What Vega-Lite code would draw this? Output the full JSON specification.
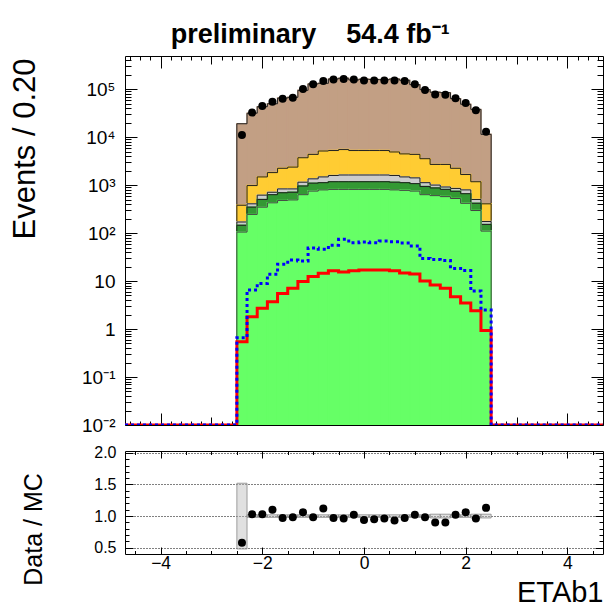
{
  "$schema": "https://vega.github.io/schema/vega-lite/v6.json",
  "padding": {"left": 8, "top": 20, "right": 4, "bottom": 0},
  "config": {
    "font": "Liberation Sans",
    "view": {"stroke": "#000", "strokeWidth": 1},
    "axis": {"domain": false, "grid": false, "labelColor": "#000", "titleColor": "#000", "tickColor": "#000", "titleFontWeight": "normal", "labelOverlap": false, "labelFlush": false, "labelBound": false, "labelFont": "Liberation Sans", "titleFont": "Liberation Sans"}
  },
  "datasets": {
    "h": [
      {"lo": -4.7, "up": -4.5, "bg": 0.01, "dg": 0.01, "gr": 0.01, "ye": 0.01, "br": 0.01, "red": 0.01, "blue": 0.01},
      {"lo": -4.5, "up": -4.3, "bg": 0.01, "dg": 0.01, "gr": 0.01, "ye": 0.01, "br": 0.01, "red": 0.01, "blue": 0.01},
      {"lo": -4.3, "up": -4.1, "bg": 0.01, "dg": 0.01, "gr": 0.01, "ye": 0.01, "br": 0.01, "red": 0.01, "blue": 0.01},
      {"lo": -4.1, "up": -3.9, "bg": 0.01, "dg": 0.01, "gr": 0.01, "ye": 0.01, "br": 0.01, "red": 0.01, "blue": 0.01},
      {"lo": -3.9, "up": -3.7, "bg": 0.01, "dg": 0.01, "gr": 0.01, "ye": 0.01, "br": 0.01, "red": 0.01, "blue": 0.01},
      {"lo": -3.7, "up": -3.5, "bg": 0.01, "dg": 0.01, "gr": 0.01, "ye": 0.01, "br": 0.01, "red": 0.01, "blue": 0.01},
      {"lo": -3.5, "up": -3.3, "bg": 0.01, "dg": 0.01, "gr": 0.01, "ye": 0.01, "br": 0.01, "red": 0.01, "blue": 0.01},
      {"lo": -3.3, "up": -3.1, "bg": 0.01, "dg": 0.01, "gr": 0.01, "ye": 0.01, "br": 0.01, "red": 0.01, "blue": 0.01},
      {"lo": -3.1, "up": -2.9, "bg": 0.01, "dg": 0.01, "gr": 0.01, "ye": 0.01, "br": 0.01, "red": 0.01, "blue": 0.01},
      {"lo": -2.9, "up": -2.7, "bg": 0.01, "dg": 0.01, "gr": 0.01, "ye": 0.01, "br": 0.01, "red": 0.01, "blue": 0.01},
      {"lo": -2.7, "up": -2.5, "bg": 0.01, "dg": 0.01, "gr": 0.01, "ye": 0.01, "br": 0.01, "red": 0.01, "blue": 0.01},
      {"c": -2.4, "lo": -2.5, "up": -2.3, "bg": 105, "dg": 145, "gr": 170, "ye": 380, "br": 18966, "red": 0.54, "blue": 0.66, "data": 11000, "ratio": 0.58, "ulo": 0.48, "uhi": 1.52},
      {"c": -2.2, "lo": -2.3, "up": -2.1, "bg": 245, "dg": 347, "gr": 407, "ye": 977, "br": 31456, "red": 1.8, "blue": 6.5, "data": 32400, "ratio": 1.03, "ulo": 0.98, "uhi": 1.02},
      {"c": -2.0, "lo": -2.1, "up": -1.9, "bg": 347, "dg": 501, "gr": 617, "ye": 1479, "br": 43010, "red": 2.7, "blue": 8.9, "data": 44300, "ratio": 1.03, "ulo": 0.98, "uhi": 1.02},
      {"c": -1.8, "lo": -1.9, "up": -1.7, "bg": 427, "dg": 631, "gr": 708, "ye": 1820, "br": 49545, "red": 3.7, "blue": 13.8, "data": 54500, "ratio": 1.10, "ulo": 0.98, "uhi": 1.02},
      {"c": -1.6, "lo": -1.7, "up": -1.5, "bg": 479, "dg": 692, "gr": 832, "ye": 2239, "br": 65052, "red": 5.5, "blue": 22.4, "data": 63100, "ratio": 0.97, "ulo": 0.98, "uhi": 1.02},
      {"c": -1.4, "lo": -1.5, "up": -1.3, "bg": 490, "dg": 708, "gr": 832, "ye": 2371, "br": 67449, "red": 7.1, "blue": 27.5, "data": 66100, "ratio": 0.98, "ulo": 0.98, "uhi": 1.02},
      {"c": -1.2, "lo": -1.3, "up": -1.1, "bg": 631, "dg": 955, "gr": 1148, "ye": 3715, "br": 94340, "red": 9.8, "blue": 26.3, "data": 100000, "ratio": 1.06, "ulo": 0.98, "uhi": 1.02},
      {"c": -1.0, "lo": -1.1, "up": -0.9, "bg": 750, "dg": 1096, "gr": 1349, "ye": 4365, "br": 128571, "red": 12.4, "blue": 49, "data": 126000, "ratio": 0.98, "ulo": 0.98, "uhi": 1.02},
      {"c": -0.8, "lo": -0.9, "up": -0.7, "bg": 794, "dg": 1122, "gr": 1479, "ye": 5129, "br": 132143, "red": 14.5, "blue": 46, "data": 148000, "ratio": 1.12, "ulo": 0.98, "uhi": 1.02},
      {"c": -0.6, "lo": -0.7, "up": -0.5, "bg": 813, "dg": 1175, "gr": 1585, "ye": 5248, "br": 162887, "red": 16.3, "blue": 56, "data": 158000, "ratio": 0.97, "ulo": 0.98, "uhi": 1.02},
      {"c": -0.4, "lo": -0.5, "up": -0.3, "bg": 813, "dg": 1175, "gr": 1622, "ye": 5495, "br": 168750, "red": 15.5, "blue": 74, "data": 162000, "ratio": 0.96, "ulo": 0.98, "uhi": 1.02},
      {"c": -0.2, "lo": -0.3, "up": -0.1, "bg": 813, "dg": 1175, "gr": 1622, "ye": 5248, "br": 154902, "red": 16.3, "blue": 63, "data": 158000, "ratio": 1.02, "ulo": 0.98, "uhi": 1.02},
      {"c": 0.0, "lo": -0.1, "up": 0.1, "bg": 813, "dg": 1175, "gr": 1622, "ye": 5248, "br": 160638, "red": 17.0, "blue": 65, "data": 151000, "ratio": 0.94, "ulo": 0.98, "uhi": 1.02},
      {"c": 0.2, "lo": 0.1, "up": 0.3, "bg": 813, "dg": 1175, "gr": 1622, "ye": 5248, "br": 158947, "red": 17.0, "blue": 63, "data": 151000, "ratio": 0.95, "ulo": 0.98, "uhi": 1.02},
      {"c": 0.4, "lo": 0.3, "up": 0.5, "bg": 813, "dg": 1175, "gr": 1622, "ye": 5248, "br": 157292, "red": 17.0, "blue": 68, "data": 151000, "ratio": 0.96, "ulo": 0.98, "uhi": 1.02},
      {"c": 0.6, "lo": 0.5, "up": 0.7, "bg": 794, "dg": 1148, "gr": 1585, "ye": 4898, "br": 162366, "red": 16.3, "blue": 66, "data": 151000, "ratio": 0.93, "ulo": 0.98, "uhi": 1.02},
      {"c": 0.8, "lo": 0.7, "up": 0.9, "bg": 776, "dg": 1122, "gr": 1479, "ye": 4467, "br": 152577, "red": 14.8, "blue": 62, "data": 148000, "ratio": 0.97, "ulo": 0.98, "uhi": 1.02},
      {"c": 1.0, "lo": 0.9, "up": 1.1, "bg": 750, "dg": 1072, "gr": 1413, "ye": 4365, "br": 123529, "red": 14.1, "blue": 54, "data": 126000, "ratio": 1.02, "ulo": 0.98, "uhi": 1.02},
      {"c": 1.2, "lo": 1.1, "up": 1.3, "bg": 631, "dg": 933, "gr": 1122, "ye": 3548, "br": 97449, "red": 10.0, "blue": 29.5, "data": 95500, "ratio": 0.98, "ulo": 0.98, "uhi": 1.02},
      {"c": 1.4, "lo": 1.3, "up": 1.5, "bg": 603, "dg": 871, "gr": 1000, "ye": 2692, "br": 86222, "red": 8.3, "blue": 28.2, "data": 77600, "ratio": 0.90, "ulo": 0.97, "uhi": 1.03},
      {"c": 1.6, "lo": 1.5, "up": 1.7, "bg": 575, "dg": 813, "gr": 912, "ye": 2692, "br": 84333, "red": 7.1, "blue": 26.9, "data": 75900, "ratio": 0.90, "ulo": 0.97, "uhi": 1.03},
      {"c": 1.8, "lo": 1.7, "up": 1.9, "bg": 525, "dg": 741, "gr": 851, "ye": 2239, "br": 63333, "red": 4.7, "blue": 18.2, "data": 64600, "ratio": 1.02, "ulo": 0.98, "uhi": 1.02},
      {"c": 2.0, "lo": 1.9, "up": 2.1, "bg": 417, "dg": 661, "gr": 794, "ye": 1660, "br": 48396, "red": 3.5, "blue": 16.6, "data": 51300, "ratio": 1.06, "ulo": 0.98, "uhi": 1.02},
      {"c": 2.2, "lo": 2.1, "up": 2.3, "bg": 295, "dg": 417, "gr": 501, "ye": 1175, "br": 37813, "red": 2.4, "blue": 6.2, "data": 36300, "ratio": 0.96, "ulo": 0.97, "uhi": 1.03},
      {"c": 2.4, "lo": 2.3, "up": 2.5, "bg": 110, "dg": 151, "gr": 174, "ye": 407, "br": 11416, "red": 0.93, "blue": 2.5, "data": 12900, "ratio": 1.13, "ulo": 0.97, "uhi": 1.03},
      {"lo": 2.5, "up": 2.7, "bg": 0.01, "dg": 0.01, "gr": 0.01, "ye": 0.01, "br": 0.01, "red": 0.01, "blue": 0.01},
      {"lo": 2.7, "up": 2.9, "bg": 0.01, "dg": 0.01, "gr": 0.01, "ye": 0.01, "br": 0.01, "red": 0.01, "blue": 0.01},
      {"lo": 2.9, "up": 3.1, "bg": 0.01, "dg": 0.01, "gr": 0.01, "ye": 0.01, "br": 0.01, "red": 0.01, "blue": 0.01},
      {"lo": 3.1, "up": 3.3, "bg": 0.01, "dg": 0.01, "gr": 0.01, "ye": 0.01, "br": 0.01, "red": 0.01, "blue": 0.01},
      {"lo": 3.3, "up": 3.5, "bg": 0.01, "dg": 0.01, "gr": 0.01, "ye": 0.01, "br": 0.01, "red": 0.01, "blue": 0.01},
      {"lo": 3.5, "up": 3.7, "bg": 0.01, "dg": 0.01, "gr": 0.01, "ye": 0.01, "br": 0.01, "red": 0.01, "blue": 0.01},
      {"lo": 3.7, "up": 3.9, "bg": 0.01, "dg": 0.01, "gr": 0.01, "ye": 0.01, "br": 0.01, "red": 0.01, "blue": 0.01},
      {"lo": 3.9, "up": 4.1, "bg": 0.01, "dg": 0.01, "gr": 0.01, "ye": 0.01, "br": 0.01, "red": 0.01, "blue": 0.01},
      {"lo": 4.1, "up": 4.3, "bg": 0.01, "dg": 0.01, "gr": 0.01, "ye": 0.01, "br": 0.01, "red": 0.01, "blue": 0.01},
      {"lo": 4.3, "up": 4.5, "bg": 0.01, "dg": 0.01, "gr": 0.01, "ye": 0.01, "br": 0.01, "red": 0.01, "blue": 0.01},
      {"lo": 4.5, "up": 4.7, "bg": 0.01, "dg": 0.01, "gr": 0.01, "ye": 0.01, "br": 0.01, "red": 0.01, "blue": 0.01}
    ]
  },
  "spacing": 8,
  "vconcat": [
    {
      "width": 478,
      "height": 369,
      "title": {"text": "preliminary\u00a0\u00a0\u00a0\u00a054.4 fb⁻¹", "fontSize": 27, "fontWeight": "bold", "anchor": "middle", "frame": "bounds", "offset": 2, "dx": 4, "color": "#000"},
      "layer": [
        {
          "data": {"name": "h"},
          "mark": {"type": "rect", "fill": "#C29F84", "stroke": "#C29F84", "strokeWidth": 1.5, "opacity": 1, "fillOpacity": 1, "clip": true},
          "encoding": {
            "x": {"field": "lo", "type": "quantitative", "scale": {"domain": [-4.7, 4.7], "nice": false, "zero": false},
              "axis": {"title": null, "labels": false, "values": [-4.6,-4.4,-4.2,-4,-3.8,-3.6,-3.4,-3.2,-3,-2.8,-2.6,-2.4,-2.2,-2,-1.8,-1.6,-1.4,-1.2,-1,-0.8,-0.6,-0.4,-0.2,0,0.2,0.4,0.6,0.8,1,1.2,1.4,1.6,1.8,2,2.2,2.4,2.6,2.8,3,3.2,3.4,3.6,3.8,4,4.2,4.4,4.6],
                "tickSize": {"condition": [{"test": "abs(datum.value % 2) < 0.001", "value": -12}, {"test": "abs(datum.value % 1) < 0.001", "value": -8}], "value": -4}}},
            "x2": {"field": "up"},
            "y": {"field": "br", "type": "quantitative", "scale": {"type": "log", "domain": [0.01, 490000], "nice": false},
              "axis": {"title": "Events / 0.20", "titleFontSize": 31, "titleX": -91, "titleY": 2, "titleAlign": "right", "titleBaseline": "alphabetic", "titleAngle": -90,
                "values": [0.01,0.02,0.03,0.04,0.05,0.06,0.07,0.08,0.09,0.1,0.2,0.3,0.4,0.5,0.6,0.7,0.8,0.9,1,2,3,4,5,6,7,8,9,10,20,30,40,50,60,70,80,90,100,200,300,400,500,600,700,800,900,1000,2000,3000,4000,5000,6000,7000,8000,9000,10000,20000,30000,40000,50000,60000,70000,80000,90000,100000,200000,300000,400000],
                "labelExpr": "datum.value===0.01?'10⁻²':datum.value===0.1?'10⁻¹':datum.value===1?'1':datum.value===10?'10':datum.value===100?'10²':datum.value===1000?'10³':datum.value===10000?'10⁴':datum.value===100000?'10⁵':''",
                "labelFontSize": 19, "labelPadding": 22,
                "tickSize": {"condition": {"test": "indexof([0.01,0.1,1,10,100,1000,10000,100000], datum.value) >= 0", "value": -12}, "value": -6}}},
            "y2": {"datum": 0.01}
          }
        },
        {
          "data": {"name": "h"},
          "transform": [{"fold": ["lo", "up"], "as": ["edge", "x"]}],
          "mark": {"type": "line", "color": "#222", "strokeWidth": 1, "clip": true},
          "encoding": {
            "x": {"field": "x", "type": "quantitative", "scale": {"domain": [-4.7, 4.7], "nice": false, "zero": false}, "axis": null},
            "y": {"field": "br", "type": "quantitative", "scale": {"type": "log", "domain": [0.01, 490000], "nice": false}, "axis": null},
            "order": [{"field": "lo", "type": "quantitative"}, {"field": "edge", "type": "nominal"}]
          }
        },
        {
          "data": {"name": "h"},
          "mark": {"type": "rect", "fill": "#FFCC33", "stroke": "#FFCC33", "strokeWidth": 1.5, "opacity": 1, "fillOpacity": 1, "clip": true},
          "encoding": {
            "x": {"field": "lo", "type": "quantitative", "scale": {"domain": [-4.7, 4.7], "nice": false, "zero": false}, "axis": null},
            "x2": {"field": "up"},
            "y": {"field": "ye", "type": "quantitative", "scale": {"type": "log", "domain": [0.01, 490000], "nice": false}, "axis": null},
            "y2": {"datum": 0.01}
          }
        },
        {
          "data": {"name": "h"},
          "transform": [{"fold": ["lo", "up"], "as": ["edge", "x"]}],
          "mark": {"type": "line", "color": "#222", "strokeWidth": 1, "clip": true},
          "encoding": {
            "x": {"field": "x", "type": "quantitative", "scale": {"domain": [-4.7, 4.7], "nice": false, "zero": false}, "axis": null},
            "y": {"field": "ye", "type": "quantitative", "scale": {"type": "log", "domain": [0.01, 490000], "nice": false}, "axis": null},
            "order": [{"field": "lo", "type": "quantitative"}, {"field": "edge", "type": "nominal"}]
          }
        },
        {
          "data": {"name": "h"},
          "mark": {"type": "rect", "fill": "#CCCCCC", "stroke": "#CCCCCC", "strokeWidth": 1.5, "opacity": 1, "fillOpacity": 1, "clip": true},
          "encoding": {
            "x": {"field": "lo", "type": "quantitative", "scale": {"domain": [-4.7, 4.7], "nice": false, "zero": false}, "axis": null},
            "x2": {"field": "up"},
            "y": {"field": "gr", "type": "quantitative", "scale": {"type": "log", "domain": [0.01, 490000], "nice": false}, "axis": null},
            "y2": {"datum": 0.01}
          }
        },
        {
          "data": {"name": "h"},
          "transform": [{"fold": ["lo", "up"], "as": ["edge", "x"]}],
          "mark": {"type": "line", "color": "#222", "strokeWidth": 1, "clip": true},
          "encoding": {
            "x": {"field": "x", "type": "quantitative", "scale": {"domain": [-4.7, 4.7], "nice": false, "zero": false}, "axis": null},
            "y": {"field": "gr", "type": "quantitative", "scale": {"type": "log", "domain": [0.01, 490000], "nice": false}, "axis": null},
            "order": [{"field": "lo", "type": "quantitative"}, {"field": "edge", "type": "nominal"}]
          }
        },
        {
          "data": {"name": "h"},
          "mark": {"type": "rect", "fill": "#339933", "stroke": "#339933", "strokeWidth": 1.5, "opacity": 1, "fillOpacity": 1, "clip": true},
          "encoding": {
            "x": {"field": "lo", "type": "quantitative", "scale": {"domain": [-4.7, 4.7], "nice": false, "zero": false}, "axis": null},
            "x2": {"field": "up"},
            "y": {"field": "dg", "type": "quantitative", "scale": {"type": "log", "domain": [0.01, 490000], "nice": false}, "axis": null},
            "y2": {"datum": 0.01}
          }
        },
        {
          "data": {"name": "h"},
          "transform": [{"fold": ["lo", "up"], "as": ["edge", "x"]}],
          "mark": {"type": "line", "color": "#222", "strokeWidth": 1, "clip": true},
          "encoding": {
            "x": {"field": "x", "type": "quantitative", "scale": {"domain": [-4.7, 4.7], "nice": false, "zero": false}, "axis": null},
            "y": {"field": "dg", "type": "quantitative", "scale": {"type": "log", "domain": [0.01, 490000], "nice": false}, "axis": null},
            "order": [{"field": "lo", "type": "quantitative"}, {"field": "edge", "type": "nominal"}]
          }
        },
        {
          "data": {"name": "h"},
          "mark": {"type": "rect", "fill": "#66FF66", "stroke": "#66FF66", "strokeWidth": 1.5, "opacity": 1, "fillOpacity": 1, "clip": true},
          "encoding": {
            "x": {"field": "lo", "type": "quantitative", "scale": {"domain": [-4.7, 4.7], "nice": false, "zero": false}, "axis": null},
            "x2": {"field": "up"},
            "y": {"field": "bg", "type": "quantitative", "scale": {"type": "log", "domain": [0.01, 490000], "nice": false}, "axis": null},
            "y2": {"datum": 0.01}
          }
        },
        {
          "data": {"name": "h"},
          "transform": [{"fold": ["lo", "up"], "as": ["edge", "x"]}],
          "mark": {"type": "line", "color": "#444", "strokeWidth": 1, "clip": true},
          "encoding": {
            "x": {"field": "x", "type": "quantitative", "scale": {"domain": [-4.7, 4.7], "nice": false, "zero": false}, "axis": null},
            "y": {"field": "bg", "type": "quantitative", "scale": {"type": "log", "domain": [0.01, 490000], "nice": false}, "axis": null},
            "order": [{"field": "lo", "type": "quantitative"}, {"field": "edge", "type": "nominal"}]
          }
        },
        {
          "data": {"name": "h"},
          "transform": [{"fold": ["lo", "up"], "as": ["edge", "x"]}],
          "mark": {"type": "line", "color": "#FF0000", "strokeWidth": 3, "clip": true},
          "encoding": {
            "x": {"field": "x", "type": "quantitative", "scale": {"domain": [-4.7, 4.7], "nice": false, "zero": false}, "axis": null},
            "y": {"field": "red", "type": "quantitative", "scale": {"type": "log", "domain": [0.01, 490000], "nice": false}, "axis": null},
            "order": [{"field": "lo", "type": "quantitative"}, {"field": "edge", "type": "nominal"}]
          }
        },
        {
          "data": {"name": "h"},
          "transform": [{"fold": ["lo", "up"], "as": ["edge", "x"]}],
          "mark": {"type": "line", "color": "#0000FF", "strokeWidth": 3, "strokeDash": [3, 3], "clip": true},
          "encoding": {
            "x": {"field": "x", "type": "quantitative", "scale": {"domain": [-4.7, 4.7], "nice": false, "zero": false}, "axis": null},
            "y": {"field": "blue", "type": "quantitative", "scale": {"type": "log", "domain": [0.01, 490000], "nice": false}, "axis": null},
            "order": [{"field": "lo", "type": "quantitative"}, {"field": "edge", "type": "nominal"}]
          }
        },
        {
          "data": {"name": "h"},
          "mark": {"type": "circle", "color": "#000", "size": 64, "opacity": 1, "clip": true},
          "encoding": {
            "x": {"field": "c", "type": "quantitative", "scale": {"domain": [-4.7, 4.7], "nice": false, "zero": false}, "axis": null},
            "y": {"field": "data", "type": "quantitative", "scale": {"type": "log", "domain": [0.01, 490000], "nice": false}, "axis": null}
          }
        },
        {
          "data": {"name": "h"},
          "mark": {"type": "circle", "opacity": 0},
          "encoding": {
            "x": {"field": "c", "type": "quantitative", "scale": {"domain": [-4.7, 4.7], "nice": false, "zero": false},
              "axis": {"orient": "top", "title": null, "labels": false, "values": [-4.6,-4.4,-4.2,-4,-3.8,-3.6,-3.4,-3.2,-3,-2.8,-2.6,-2.4,-2.2,-2,-1.8,-1.6,-1.4,-1.2,-1,-0.8,-0.6,-0.4,-0.2,0,0.2,0.4,0.6,0.8,1,1.2,1.4,1.6,1.8,2,2.2,2.4,2.6,2.8,3,3.2,3.4,3.6,3.8,4,4.2,4.4,4.6],
                "tickSize": {"condition": [{"test": "abs(datum.value % 2) < 0.001", "value": -12}, {"test": "abs(datum.value % 1) < 0.001", "value": -8}], "value": -4}}},
            "y": {"field": "data", "type": "quantitative", "scale": {"type": "log", "domain": [0.01, 490000], "nice": false},
              "axis": {"orient": "right", "title": null, "labels": false,
                "values": [0.01,0.02,0.03,0.04,0.05,0.06,0.07,0.08,0.09,0.1,0.2,0.3,0.4,0.5,0.6,0.7,0.8,0.9,1,2,3,4,5,6,7,8,9,10,20,30,40,50,60,70,80,90,100,200,300,400,500,600,700,800,900,1000,2000,3000,4000,5000,6000,7000,8000,9000,10000,20000,30000,40000,50000,60000,70000,80000,90000,100000,200000,300000,400000],
                "tickSize": {"condition": {"test": "indexof([0.01,0.1,1,10,100,1000,10000,100000], datum.value) >= 0", "value": -12}, "value": -6}}}
          }
        }
      ],
      "resolve": {"axis": {"x": "independent", "y": "independent"}}
    },
    {
      "width": 478,
      "height": 103,
      "layer": [
        {
          "data": {"name": "h"},
          "mark": {"type": "rect", "fill": "#BBBBBB", "fillOpacity": 0.45, "stroke": "#888", "strokeWidth": 0.8, "clip": true},
          "encoding": {
            "x": {"field": "lo", "type": "quantitative", "scale": {"domain": [-4.7, 4.7], "nice": false, "zero": false},
              "axis": {"title": "ETAb1", "titleFontSize": 29, "titleX": 478, "titleY": 47, "titleAlign": "right", "titleBaseline": "alphabetic",
                "values": [-4.5,-4,-3.5,-3,-2.5,-2,-1.5,-1,-0.5,0,0.5,1,1.5,2,2.5,3,3.5,4,4.5],
                "labelExpr": "abs(datum.value % 2) < 0.001 ? replace(format(datum.value, 'd'), '-', '−') : ''",
                "labelFontSize": 17.5, "labelPadding": 7,
                "tickSize": {"condition": {"test": "abs(datum.value % 2) < 0.001", "value": -7}, "value": -3.5}}},
            "x2": {"field": "up"},
            "y": {"field": "ulo", "type": "quantitative", "scale": {"domain": [0.4, 2.03], "nice": false, "zero": false},
              "axis": {"title": "Data / MC", "titleFontSize": 25, "titleX": -84, "titleY": 78, "titleAlign": "center", "titleBaseline": "alphabetic", "titleAngle": -90,
                "values": [0.5,0.6,0.7,0.8,0.9,1,1.1,1.2,1.3,1.4,1.5,1.6,1.7,1.8,1.9,2],
                "labelExpr": "abs(datum.value*2 - round(datum.value*2)) < 0.001 ? format(datum.value, '.1f') : ''",
                "labelFontSize": 16, "labelPadding": 17,
                "grid": true, "gridDash": [1, 2], "gridColor": "#000", "gridWidth": 1,
                "gridOpacity": {"condition": {"test": "abs(datum.value*2 - round(datum.value*2)) < 0.001", "value": 1}, "value": 0},
                "tickSize": {"condition": {"test": "abs(datum.value*2 - round(datum.value*2)) < 0.001", "value": -8}, "value": -4}}},
            "y2": {"field": "uhi"}
          }
        },
        {
          "data": {"name": "h"},
          "mark": {"type": "circle", "color": "#000", "size": 64, "opacity": 1, "clip": true},
          "encoding": {
            "x": {"field": "c", "type": "quantitative", "scale": {"domain": [-4.7, 4.7], "nice": false, "zero": false}, "axis": null},
            "y": {"field": "ratio", "type": "quantitative", "scale": {"domain": [0.4, 2.03], "nice": false, "zero": false}, "axis": null}
          }
        },
        {
          "data": {"name": "h"},
          "mark": {"type": "circle", "opacity": 0},
          "encoding": {
            "x": {"field": "c", "type": "quantitative", "scale": {"domain": [-4.7, 4.7], "nice": false, "zero": false},
              "axis": {"orient": "top", "title": null, "labels": false, "values": [-4.5,-4,-3.5,-3,-2.5,-2,-1.5,-1,-0.5,0,0.5,1,1.5,2,2.5,3,3.5,4,4.5],
                "tickSize": {"condition": {"test": "abs(datum.value % 2) < 0.001", "value": -7}, "value": -3.5}}},
            "y": {"field": "ratio", "type": "quantitative", "scale": {"domain": [0.4, 2.03], "nice": false, "zero": false},
              "axis": {"orient": "right", "title": null, "labels": false, "values": [0.5,0.6,0.7,0.8,0.9,1,1.1,1.2,1.3,1.4,1.5,1.6,1.7,1.8,1.9,2],
                "tickSize": {"condition": {"test": "abs(datum.value*2 - round(datum.value*2)) < 0.001", "value": -8}, "value": -4}}}
          }
        }
      ],
      "resolve": {"axis": {"x": "independent", "y": "independent"}}
    }
  ]
}
